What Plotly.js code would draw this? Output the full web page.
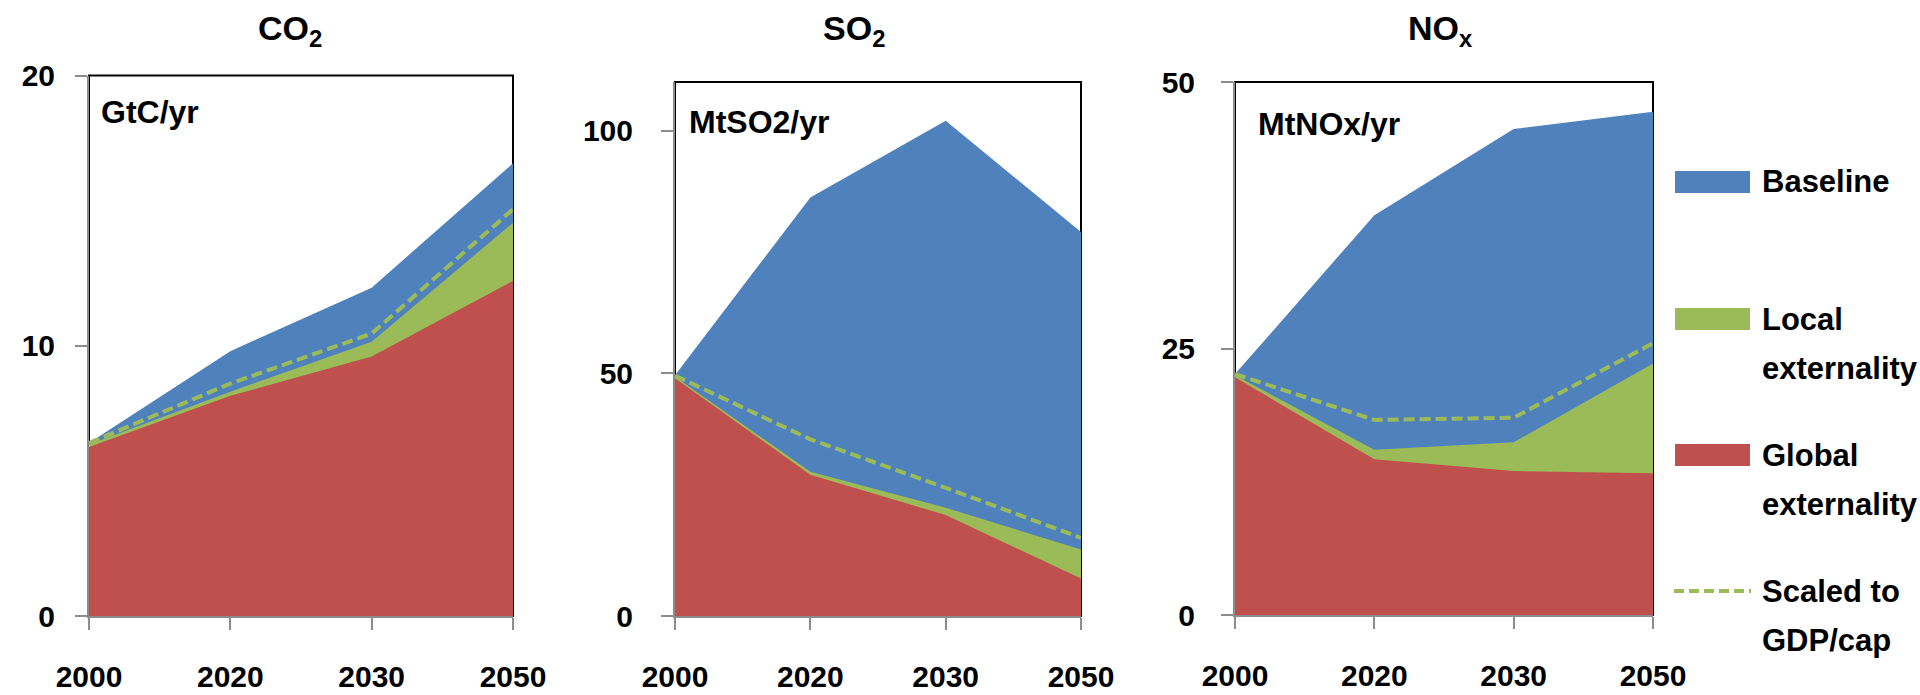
<!DOCTYPE html>
<html>
<head>
<meta charset="utf-8">
<script src="https://cdn.plot.ly/plotly-3.0.1.min.js"></script>
<style>
  html, body { margin: 0; padding: 0; background: #fff; }
  #chart { width: 1920px; height: 695px; }
</style>
</head>
<body>
<div id="chart"></div>
<script>
// Emission pathways by pollutant: top edge of each overlapping area
const years = ['2000', '2020', '2030', '2050'];

const co2Baseline = [6.4, 9.8, 12.15, 16.75];
const co2Local    = [6.35, 8.3, 10.15, 14.55];
const co2Global   = [6.25, 8.15, 9.6, 12.4];
const co2Scaled   = [6.4, 8.6, 10.45, 15.05];

const so2Baseline = [49.6, 86.2, 102.0, 79.1];
const so2Local    = [49.3, 29.7, 22.3, 13.7];
const so2Global   = [49.0, 29.1, 20.8, 7.7];
const so2Scaled   = [49.5, 36.4, 26.4, 16.1];

const noxBaseline = [22.6, 37.5, 45.6, 47.2];
const noxLocal    = [22.5, 15.5, 16.2, 23.6];
const noxGlobal   = [22.3, 14.6, 13.5, 13.3];
const noxScaled   = [22.6, 18.3, 18.5, 25.5];

const panelTitles = ['CO<sub>2</sub>', 'SO<sub>2</sub>', 'NO<sub>x</sub>'];
const unitLabels  = ['GtC/yr', 'MtSO2/yr', 'MtNOx/yr'];
const yTicks = [[0, 10, 20], [0, 50, 100], [0, 25, 50]];
const yRanges = [[0, 20], [0, 110], [0, 50]];
const legendLabels = [['Baseline'], ['Local', 'externality'], ['Global', 'externality'], ['Scaled to', 'GDP/cap']];

const BLUE = '#4F81BD', GREEN = '#9BBB59', RED = '#C0504D', AXIS = '#8C8C8C';
const FONT = 'Liberation Sans, Arial, sans-serif';
const W = 1920, H = 695;
const px = v => v / W;
const py = v => 1 - v / H;

const panels = [
  { base: co2Baseline, local: co2Local, glob: co2Global, scaled: co2Scaled,
    x: [89, 513], y: [75.5, 616], title: [290, 31], unit: [99, 112], ylabStand: 14 },
  { base: so2Baseline, local: so2Local, glob: so2Global, scaled: so2Scaled,
    x: [675, 1081], y: [82, 616], title: [854, 31], unit: [687, 122], ylabStand: 22 },
  { base: noxBaseline, local: noxLocal, glob: noxGlobal, scaled: noxScaled,
    x: [1235, 1653], y: [82, 615], title: [1440, 31], unit: [1256, 124], ylabStand: 20 }
];

const traces = [];
const layout = {
  width: W, height: H,
  margin: { l: 0, r: 0, t: 0, b: 0 },
  paper_bgcolor: '#fff', plot_bgcolor: '#fff',
  showlegend: false,
  shapes: [], annotations: []
};

panels.forEach((p, i) => {
  const n = i === 0 ? '' : String(i + 1);
  const xa = 'x' + n, ya = 'y' + n;
  const areas = [[p.base, BLUE], [p.local, GREEN], [p.glob, RED]];
  areas.forEach(([vals, col]) => {
    traces.push({
      type: 'scatter', mode: 'lines', x: years, y: vals,
      xaxis: xa, yaxis: ya, fill: 'tozeroy', fillcolor: col,
      line: { width: 0, color: col }, hoverinfo: 'skip'
    });
  });
  traces.push({
    type: 'scatter', mode: 'lines', x: years, y: p.scaled,
    xaxis: xa, yaxis: ya,
    line: { color: GREEN, width: 4, dash: '11px,5px' }, hoverinfo: 'skip'
  });

  layout['xaxis' + n] = {
    domain: [px(p.x[0]), px(p.x[1])], anchor: ya, type: 'category',
    range: [0, years.length - 1], showgrid: false, zeroline: false,
    showline: true, linecolor: AXIS, linewidth: 2,
    ticks: 'outside', ticklen: 12, tickwidth: 2, tickcolor: AXIS,
    ticklabelstandoff: 21,
    tickfont: { family: FONT, size: 30, color: '#000', weight: 700 }
  };
  layout['yaxis' + n] = {
    domain: [py(p.y[1]), py(p.y[0])], anchor: xa,
    range: yRanges[i], tickvals: yTicks[i], showgrid: false, zeroline: false,
    showline: true, linecolor: AXIS, linewidth: 2,
    ticks: 'outside', ticklen: 12, tickwidth: 2, tickcolor: AXIS,
    ticklabelstandoff: p.ylabStand,
    tickfont: { family: FONT, size: 30, color: '#000', weight: 700 }
  };

  // plot-area frame sits beneath the filled areas
  layout.shapes.push({
    type: 'rect', xref: xa + ' domain', yref: ya + ' domain',
    x0: 0, x1: 1, y0: 0, y1: 1, layer: 'below',
    line: { color: '#000', width: 2 }, fillcolor: 'rgba(0,0,0,0)'
  });

  layout.annotations.push({
    text: panelTitles[i], xref: 'paper', yref: 'paper',
    x: px(p.title[0]), y: py(p.title[1]), xanchor: 'center', yanchor: 'middle',
    showarrow: false, font: { family: FONT, size: 34, color: '#000', weight: 700 }
  });
  layout.annotations.push({
    text: unitLabels[i], xref: 'paper', yref: 'paper',
    x: px(p.unit[0]), y: py(p.unit[1]), xanchor: 'left', yanchor: 'middle',
    showarrow: false, font: { family: FONT, size: 32, color: '#000', weight: 700 }
  });
});

// legend on the right: swatches, dashed line and two-line labels
const legendRows = [182, 319, 455, 591];
const legendColors = [BLUE, GREEN, RED, null];
legendRows.forEach((yc, k) => {
  if (legendColors[k]) {
    layout.shapes.push({
      type: 'rect', xref: 'paper', yref: 'paper',
      x0: px(1675), x1: px(1750), y0: py(yc + 11), y1: py(yc - 11),
      line: { width: 0 }, fillcolor: legendColors[k]
    });
  } else {
    layout.shapes.push({
      type: 'line', xref: 'paper', yref: 'paper',
      x0: px(1674), x1: px(1751), y0: py(yc), y1: py(yc),
      line: { color: GREEN, width: 4, dash: '10px,5px' }
    });
  }
  legendLabels[k].forEach((line, j) => {
    layout.annotations.push({
      text: line, xref: 'paper', yref: 'paper',
      x: px(1760), y: py(yc + j * 49), xanchor: 'left', yanchor: 'middle',
      showarrow: false, font: { family: FONT, size: 31, color: '#000', weight: 700 }
    });
  });
});

Plotly.newPlot('chart', traces, layout, { staticPlot: true, displayModeBar: false });
</script>
</body>
</html>
